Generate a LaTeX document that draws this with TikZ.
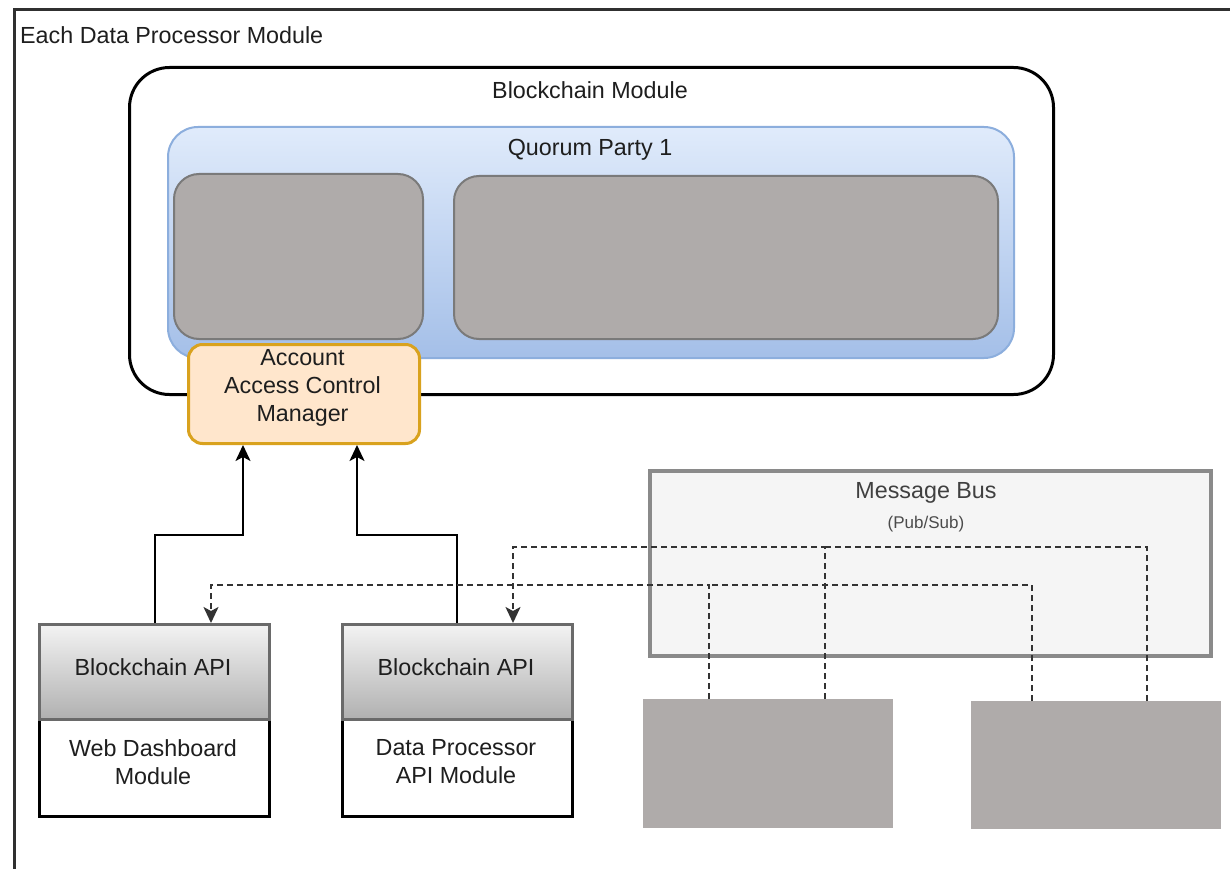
\documentclass[tikz,border=0pt]{standalone}
\usepackage{fontspec}
\setmainfont{Liberation Sans}
\usetikzlibrary{arrows.meta}
\definecolor{framec}{HTML}{303030}
\definecolor{txt}{HTML}{1E1E1E}
\definecolor{grayfill}{HTML}{AFABAA}
\definecolor{graydraw}{HTML}{7A7A7A}
\definecolor{qtop}{HTML}{E0EBFB}
\definecolor{qbot}{HTML}{A4BFE8}
\definecolor{qdraw}{HTML}{8CAEDD}
\definecolor{ofill}{HTML}{FFE6CC}
\definecolor{odraw}{HTML}{D9A21E}
\definecolor{apitop}{HTML}{F3F3F3}
\definecolor{apibot}{HTML}{B0B0B0}
\definecolor{apidraw}{HTML}{6A6A6A}
\definecolor{mbfill}{HTML}{F5F5F5}
\definecolor{mbdraw}{HTML}{8A8A8A}
\definecolor{dashc}{HTML}{333333}
\tikzset{
  box/.style={rectangle, inner sep=0pt, anchor=north west, align=center, text=txt,
    font=\fontsize{23.3}{28}\selectfont},
  lbl/.style={inner sep=0pt, text=txt, font=\fontsize{23.3}{28}\selectfont},
  smalllbl/.style={inner sep=0pt, text=txt, font=\fontsize{17}{20}\selectfont},
  graybox/.style={box, fill=grayfill, draw=graydraw, line width=2pt, rounded corners=25pt},
  flatgray/.style={box, fill=grayfill},
  apihead/.style={box, top color=apitop, bottom color=apibot, draw=apidraw, line width=3pt},
  apibody/.style={box, fill=white, draw=black, line width=3pt},
  solidarrow/.style={draw=black, line width=2pt, -{Stealth[length=16pt,width=15pt,inset=4pt]}},
  dashline/.style={draw=dashc, line width=2pt, dash pattern=on 6pt off 4pt},
  dasharrow/.style={dashline, -{Stealth[length=16pt,width=15pt,inset=4pt]}},
}
\begin{document}
\begin{tikzpicture}[x=1pt,y=-1pt]
\useasboundingbox (0,0) rectangle (1230,869);
\fill[white] (0,0) rectangle (1230,869);
% outer frame
\draw[framec, line width=3pt] (14,10) rectangle (1260,900);
\node[lbl, anchor=west] (title) at (20,35) {Each Data Processor Module};

% blockchain module
\node[box, draw=black, line width=3pt, rounded corners=40pt, fill=white,
  minimum width=924pt, minimum height=327pt] (bm) at (128,66) {};
\node[lbl] (bmlabel) at (590,90) {Blockchain Module};

% quorum party
\node[box, top color=qtop, bottom color=qbot, draw=qdraw, line width=2pt, rounded corners=30pt,
  minimum width=846pt, minimum height=231pt] (qp) at (167,126) {};
\node[lbl] (qplabel) at (590,150) {Quorum Party 1};
\node[graybox, minimum width=249pt, minimum height=165pt] (g1) at (173,173) {};
\node[graybox, minimum width=544pt, minimum height=163pt] (g2) at (453,175) {};

% account access control manager
\node[box, fill=ofill, draw=odraw, line width=3pt, rounded corners=14pt,
  minimum width=231pt, minimum height=99pt] (acm) at (187,343) {};
\node[lbl, align=center] (acmlabel) at (302.5,388) {Account\\Access Control\\Manager};

% API modules
\node[apibody, minimum width=230pt, minimum height=97pt] (body1) at (38,718) {};
\node[apihead, minimum width=230pt, minimum height=95pt] (api1) at (38,623) {};
\node[lbl] (api1label) at (153,667) {Blockchain API};
\node[lbl, align=center] (body1label) at (153,762) {Web Dashboard\\Module};

\node[apibody, minimum width=230pt, minimum height=97pt] (body2) at (341,718) {};
\node[apihead, minimum width=230pt, minimum height=95pt] (api2) at (341,623) {};
\node[lbl] (api2label) at (456,667) {Blockchain API};
\node[lbl, align=center] (body2label) at (456,762) {Data Processor\\API Module};

% message bus
\node[box, fill=mbfill, draw=mbdraw, line width=3.5pt,
  minimum width=561pt, minimum height=185pt] (mb) at (648,469) {};
\node[lbl, text=txt!85!white] (mblabel) at (926,493) {Message Bus};
\node[smalllbl, text=txt!80!white] (mbsub) at (926,524) {(Pub/Sub)};

% gray blocks
\node[flatgray, minimum width=250pt, minimum height=129pt] (ga) at (643,699) {};
\node[flatgray, minimum width=250pt, minimum height=128pt] (gb) at (971,701) {};

% solid arrows
\coordinate (j1) at (243,535);
\coordinate (j2) at (357,535);
\draw[solidarrow] (api1.north) |- (j1) -- (acm.south -| j1);
\draw[solidarrow] (api2.north -| 457,0) |- (j2) -- (acm.south -| j2);

% dashed connectors
\coordinate (l1) at (211,585);
\coordinate (l2) at (709,585);
\coordinate (l3) at (1032,585);
\coordinate (u1) at (513,547);
\coordinate (u2) at (825,547);
\coordinate (u3) at (1147,547);
\draw[dasharrow] (ga.north -| l2) -- (l2) -- (l1) -- (api1.north -| l1);
\draw[dashline] (gb.north -| l3) -- (l3) -- (l2);
\draw[dasharrow] (ga.north -| u2) -- (u2) -- (u1) -- (api2.north -| u1);
\draw[dashline] (gb.north -| u3) -- (u3) -- (u2);
\end{tikzpicture}
\end{document}
